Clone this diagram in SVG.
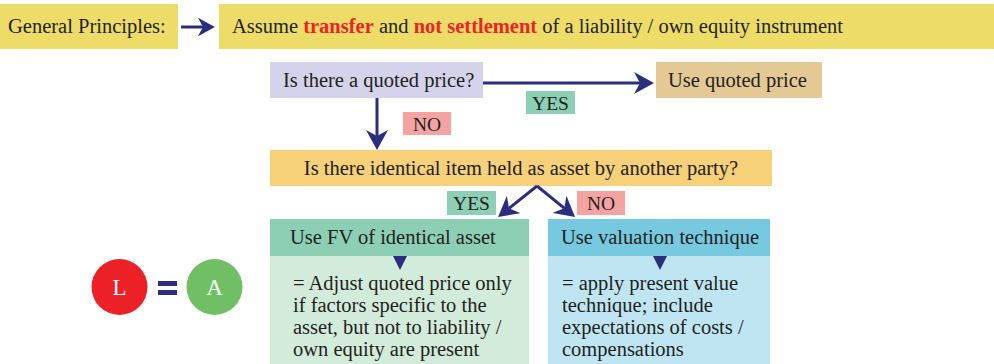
<svg xmlns="http://www.w3.org/2000/svg" width="994" height="364" viewBox="0 0 994 364">
<style>
  text { font-family: "Liberation Serif", "Times New Roman", serif; font-size: 20.5px; fill: #231f20; }
  .red { fill: #ed2327; font-weight: bold; }
  .lbl { font-size: 19.5px; text-anchor: middle; }
  .ctr { text-anchor: middle; }
  .wh { fill: #ffffff; font-size: 23px; text-anchor: middle; }
  .conn { stroke: #2b2e7e; stroke-width: 3; fill: none; }
  .navy { fill: #2b2e7e; }
</style>
<defs>
  <marker id="ah" viewBox="-20 -11 20 22" refX="-14" refY="0" markerWidth="20" markerHeight="22" markerUnits="userSpaceOnUse" orient="auto">
    <path d="M0,0 L-20,-11 L-14,0 L-20,11 Z" fill="#2b2e7e"/>
  </marker>
  <marker id="ahs" viewBox="-20 -11 20 22" refX="-14" refY="0" markerWidth="17" markerHeight="18.7" markerUnits="userSpaceOnUse" orient="auto">
    <path d="M0,0 L-20,-11 L-14,0 L-20,11 Z" fill="#2b2e7e"/>
  </marker>
</defs>

<g id="general">
  <rect x="0" y="4" width="178" height="45" fill="#eedc68"/>
  <text x="8" y="33">General Principles:</text>
</g>
<g id="assume">
  <rect x="219" y="4" width="775" height="45" fill="#eedc68"/>
  <text x="232" y="33">Assume <tspan class="red">transfer</tspan> and <tspan class="red">not settlement</tspan> of a liability / own equity instrument</text>
</g>
<g id="quoted">
  <rect x="270" y="62" width="213" height="36" fill="#d4d3eb"/>
  <text x="283" y="87">Is there a quoted price?</text>
</g>
<g id="use-quoted">
  <rect x="656" y="62" width="166" height="36" fill="#e4c995"/>
  <text x="668" y="87">Use quoted price</text>
</g>
<g id="identical">
  <rect x="270" y="150" width="502" height="36" fill="#f7d07a"/>
  <text class="ctr" x="521" y="175">Is there identical item held as asset by another party?</text>
</g>
<g id="fv">
  <rect x="270" y="219" width="259" height="37" fill="#8dcfb4"/>
  <rect x="270" y="256" width="259" height="108" fill="#d3ebdb"/>
  <text x="290" y="244">Use FV of identical asset</text>
  <polygon class="navy" points="393,256 407,256 400,270"/>
  <text x="293" y="290">= Adjust quoted price only</text>
  <text x="293" y="312">if factors specific to the</text>
  <text x="293" y="334">asset, but not to liability /</text>
  <text x="293" y="356">own equity are present</text>
</g>
<g id="valuation">
  <rect x="548" y="219" width="222" height="37" fill="#76c9df"/>
  <rect x="548" y="256" width="222" height="108" fill="#bfe5f3"/>
  <text x="561" y="244">Use valuation technique</text>
  <polygon class="navy" points="653,256 667,256 660,270"/>
  <text x="562" y="290">= apply present value</text>
  <text x="562" y="312">technique; include</text>
  <text x="562" y="334">expectations of costs /</text>
  <text x="562" y="356">compensations</text>
</g>
<g id="l-equals-a">
  <circle cx="119.5" cy="287" r="28" fill="#ec2128"/>
  <text class="wh" x="119.5" y="295">L</text>
  <rect x="158" y="281" width="19" height="5" fill="#2b2e7e"/>
  <rect x="158" y="290" width="19" height="5" fill="#2b2e7e"/>
  <circle cx="214.5" cy="287" r="28" fill="#71bf65"/>
  <text class="wh" x="214.5" y="295">A</text>
</g>

<g id="connectors">
  <line class="conn" x1="181" y1="27" x2="203" y2="27" marker-end="url(#ahs)"/>
  <line class="conn" x1="483" y1="83" x2="640" y2="83" marker-end="url(#ah)"/>
  <line class="conn" x1="377" y1="98" x2="377" y2="136" marker-end="url(#ah)"/>
  <line class="conn" x1="537" y1="186" x2="509" y2="208.3" marker-end="url(#ah)"/>
  <line class="conn" x1="537" y1="186" x2="564.2" y2="208.2" marker-end="url(#ah)"/>
</g>

<g id="labels">
  <rect x="526" y="91" width="49" height="23" fill="#8dcfb4"/>
  <text class="lbl" x="550.5" y="110">YES</text>
  <rect x="403" y="112" width="48" height="23" fill="#f4a3a3"/>
  <text class="lbl" x="427" y="131">NO</text>
  <rect x="447" y="191" width="49" height="24" fill="#8dcfb4"/>
  <text class="lbl" x="471.5" y="210">YES</text>
  <rect x="577" y="191" width="48" height="24" fill="#f4a3a3"/>
  <text class="lbl" x="601" y="210">NO</text>
</g>
</svg>
